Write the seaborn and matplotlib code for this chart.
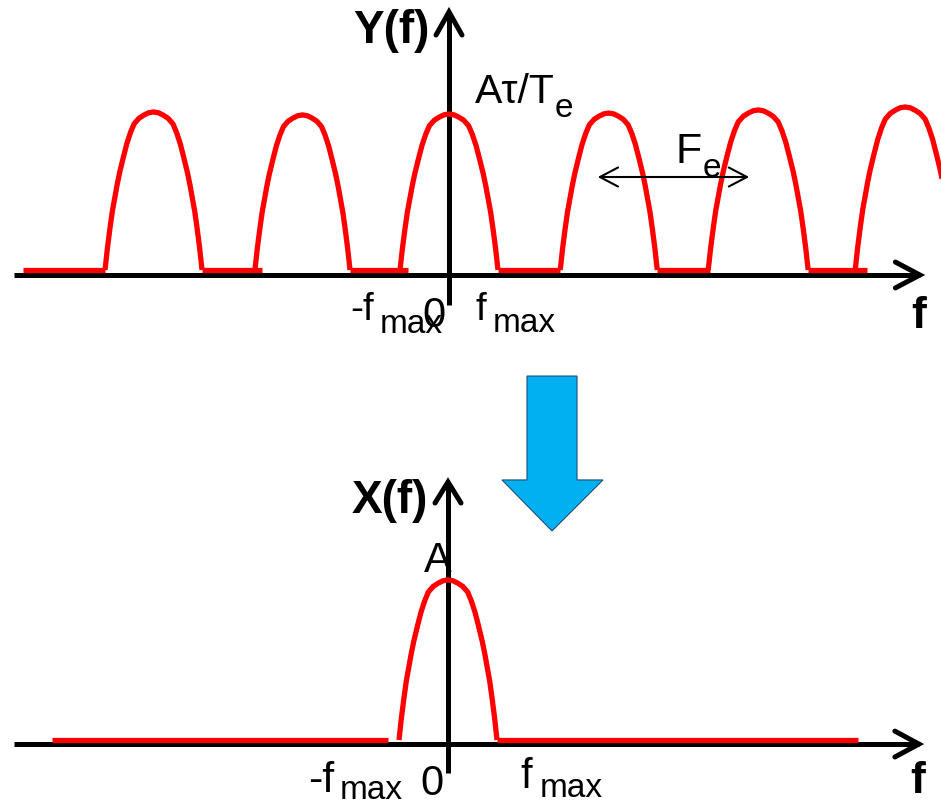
import numpy as np
import pandas as pd
import seaborn as sns
import matplotlib
matplotlib.use("Agg")
import matplotlib.pyplot as plt
from matplotlib.patches import Polygon

sns.set_theme(style="white")
plt.rcParams["font.family"] = ["Liberation Sans", "DejaVu Sans"]

# Shape of one spectral lobe: offset (in half-widths) -> relative height
lobe_u_half = [0.0, 0.1, 0.2, 0.3, 0.4, 0.475, 0.55, 0.625, 0.7,
               0.75, 0.8, 0.85, 0.9, 0.95, 1.0]
lobe_h_half = [1.0, 0.995, 0.98, 0.96, 0.925, 0.87, 0.80, 0.71, 0.615,
               0.54, 0.455, 0.37, 0.26, 0.14, 0.0]
lobe_u = [-u for u in lobe_u_half[::-1]] + lobe_u_half[1:]
lobe_h = lobe_h_half[::-1] + lobe_h_half[1:]

# Sampled spectrum Y(f): replicas every Fe (frequency unit = fmax)
y_centers = [-6.03, -2.99, 0.0, 3.26, 6.31, 9.31]
y_halfw = [0.99, 0.97, 1.0, 0.99, 1.02, 1.02]
y_heights = [1.013, 0.994, 1.0, 1.006, 1.026, 1.045]
y_flat_start = [-8.69, -5.04, -2.02, 1.0, 4.25, 7.33]
y_flat_end = [-7.02, -3.82, -0.84, 2.27, 5.33, 8.53]

# Original spectrum X(f)
x_centers = [0.0]
x_halfw = [1.0]
x_heights = [1.026]
x_flat_start = [-8.08, 1.0]
x_flat_end = [-1.22, 8.37]


def spectrum_frame(centers, halfw, heights, flat_start, flat_end):
    rows = []
    seg = 0
    for c, w, h in zip(centers, halfw, heights):
        for u, r in zip(lobe_u, lobe_h):
            rows.append((seg, c + u * w, r * h))
        seg += 1
    for a, b in zip(flat_start, flat_end):
        rows.append((seg, a, 0.0))
        rows.append((seg, b, 0.0))
        seg += 1
    return pd.DataFrame(rows, columns=["seg", "f", "amp"])


W, H = 941, 805
fig = plt.figure(figsize=(W / 100, H / 100), dpi=100)
fig.patch.set_facecolor("white")

# Both panels share the full canvas, each with its own frequency/amplitude scale
PX_F = 49.0    # pixels per fmax
PX_A = 156.0   # pixels per amplitude unit


def make_axes(x0, base):
    ax = fig.add_axes([0, 0, 1, 1])
    ax.set_xlim((0 - x0) / PX_F, (W - x0) / PX_F)
    ax.set_ylim((base - H) / PX_A, base / PX_A)
    ax.set_axis_off()
    ax.patch.set_alpha(0)
    return ax


ax_top = make_axes(449, 270)
ax_bot = make_axes(448, 740)

AX_LW = 3.6
RED_LW = 3.8


def draw_axes(ax, y_axis, x_from, x_to, yv_from, yv_to, dx_arm, dy_arm_x, dy_arm_y):
    # horizontal frequency axis with open arrowhead
    ax.plot([x_from, x_to], [y_axis, y_axis], color="black", lw=AX_LW,
            solid_capstyle="butt", zorder=2)
    ax.plot([x_to - dx_arm, x_to, x_to - dx_arm],
            [y_axis + dy_arm_x, y_axis, y_axis - dy_arm_x],
            color="black", lw=AX_LW, solid_capstyle="round",
            solid_joinstyle="miter", zorder=2)
    # vertical amplitude axis with open arrowhead
    ax.plot([0, 0], [yv_from, yv_to], color="black", lw=AX_LW,
            solid_capstyle="butt", zorder=2)
    ax.plot([-0.265, 0, 0.265], [yv_to - dy_arm_y, yv_to, yv_to - dy_arm_y],
            color="black", lw=AX_LW, solid_capstyle="round",
            solid_joinstyle="miter", zorder=2)


draw_axes(ax_top, -0.032, -8.88, 9.61, -0.224, 1.654, 0.5, 0.083, 0.148)
draw_axes(ax_bot, -0.026, -8.86, 9.61, -0.212, 1.654, 0.49, 0.083, 0.135)

# Red spectra
df_y = spectrum_frame(y_centers, y_halfw, y_heights, y_flat_start, y_flat_end)
df_x = spectrum_frame(x_centers, x_halfw, x_heights, x_flat_start, x_flat_end)
for ax, df in ((ax_top, df_y), (ax_bot, df_x)):
    sns.lineplot(data=df, x="f", y="amp", units="seg", estimator=None,
                 sort=False, color="#FF0000", linewidth=RED_LW, ax=ax,
                 solid_joinstyle="round", solid_capstyle="butt", zorder=3,
                 legend=False)
    ax.set_axis_off()

# Fe double arrow
fe_a, fe_b, fe_y = 3.08, 6.08, 0.596
ax_top.plot([fe_a, fe_b], [fe_y, fe_y], color="black", lw=1.5, zorder=4)
for tip, sgn in ((fe_a, 1), (fe_b, -1)):
    ax_top.plot([tip + sgn * 0.37, tip, tip + sgn * 0.37],
                [fe_y + 0.061, fe_y, fe_y - 0.061],
                color="black", lw=1.5, zorder=4)

# Labels, top panel
kw = dict(va="baseline", ha="left", color="black", zorder=5)
ax_top.text(-0.388, 1.455, "Y(f)", fontsize=33, fontweight="bold",
            **{**kw, "ha": "right"})
ax_top.text(0.531, 1.071, "Aτ/T", fontsize=29.5, **kw)
ax_top.text(2.16, 0.981, "e", fontsize=24, **kw)
ax_top.text(-2.02, -0.321, "-f", fontsize=28, **kw)
ax_top.text(-1.41, -0.404, "max", fontsize=24, **kw)
ax_top.text(-0.55, -0.365, "0", fontsize=30, **kw)
ax_top.text(0.55, -0.321, "f", fontsize=28, **kw)
ax_top.text(0.898, -0.397, "max", fontsize=24, **kw)
ax_top.text(9.43, -0.372, "f", fontsize=32, fontweight="bold", **kw)
ax_top.text(4.63, 0.686, "F", fontsize=31, **kw)
ax_top.text(5.18, 0.596, "e", fontsize=24, **kw)

# Labels, bottom panel
ax_bot.text(-0.408, 1.455, "X(f)", fontsize=33, fontweight="bold",
            **{**kw, "ha": "right"})
ax_bot.text(-0.49, 1.077, "A", fontsize=30, **kw)
ax_bot.text(-2.857, -0.333, "-f", fontsize=31, **kw)
ax_bot.text(-2.2, -0.38, "max", fontsize=24, **kw)
ax_bot.text(-0.57, -0.353, "0", fontsize=30, **kw)
ax_bot.text(1.47, -0.308, "f", fontsize=30, **kw)
ax_bot.text(1.878, -0.365, "max", fontsize=24, **kw)
ax_bot.text(9.43, -0.340, "f", fontsize=32, fontweight="bold", **kw)

# Blue block arrow between the two panels
arrow_pts = [(1.612, 2.333), (2.633, 2.333), (2.633, 1.667), (3.163, 1.667),
             (2.122, 1.340), (1.102, 1.667), (1.612, 1.667)]
ax_bot.add_patch(Polygon(arrow_pts, closed=True, facecolor="#00B0F0",
                         edgecolor="#1F4E79", linewidth=0.8, zorder=4,
                         clip_on=False))

fig.savefig("out.png", dpi=100, facecolor="white")
